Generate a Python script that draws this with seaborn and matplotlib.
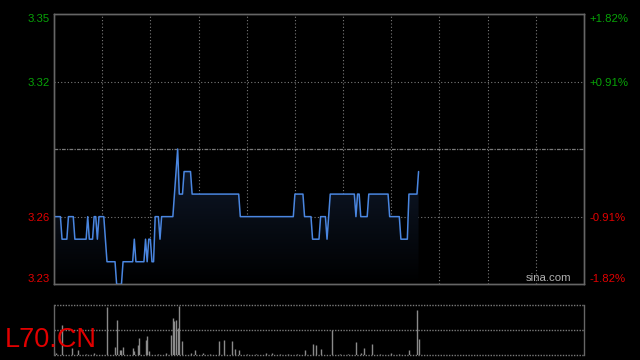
import numpy as np
import pandas as pd
import matplotlib
matplotlib.use("Agg")
import matplotlib.pyplot as plt
from matplotlib.colors import LinearSegmentedColormap
import seaborn as sns

# ---------------- data ----------------
prev_close = 3.29
session_minutes = 330          # 9:30-12:00 + 13:00-16:00
grid_step = 30
# price path as run-lengths: level and number of minutes at that level
run_prices = [3.26, 3.25, 3.26, 3.25, 3.26, 3.25, 3.26, 3.25, 3.26, 3.25,
              3.24, 3.23, 3.24, 3.25, 3.24, 3.25, 3.24, 3.25, 3.24, 3.26,
              3.25, 3.26, 3.27, 3.28, 3.29, 3.27, 3.28, 3.27, 3.26, 3.27,
              3.26, 3.25, 3.26, 3.25, 3.26, 3.27, 3.26, 3.27, 3.26, 3.27,
              3.26, 3.25, 3.27, 3.28]
run_lengths = [5, 4, 4, 8, 1, 3, 2, 1, 4, 1,
               6, 4, 7, 1, 6, 1, 1, 2, 2, 3,
               1, 8, 1, 1, 1, 3, 5, 30, 34, 6,
               5, 5, 4, 1, 1, 16, 1, 2, 5, 13,
               7, 5, 6, 1]
vol_minutes = [0, 1, 5, 11, 15, 20, 25, 33, 38, 39, 41, 42, 43, 49, 50, 52, 53,
               57, 58, 59, 65, 70, 73, 74, 75, 76, 77, 78, 80, 85, 88, 93, 97,
               103, 106, 111, 113, 115, 120, 126, 132, 136, 141, 146, 151, 156,
               161, 163, 166, 173, 178, 183, 188, 191, 193, 198, 203, 210, 215,
               221, 226, 227]
vol_values = [0.08, 0.05, 0.62, 0.14, 0.10, 0.03, 0.04, 0.97, 0.17, 0.72, 0.10,
              0.10, 0.17, 0.14, 0.08, 0.21, 0.35, 0.31, 0.39, 0.08, 0.03, 0.05,
              0.41, 0.75, 0.70, 0.72, 0.55, 1.00, 0.28, 0.04, 0.10, 0.04, 0.03,
              0.28, 0.30, 0.28, 0.12, 0.10, 0.03, 0.03, 0.04, 0.05, 0.03, 0.03,
              0.03, 0.10, 0.22, 0.20, 0.12, 0.50, 0.03, 0.03, 0.26, 0.05, 0.14,
              0.22, 0.03, 0.05, 0.03, 0.10, 0.92, 0.32]
left_labels = ["3.23", "3.26", "3.32", "3.35"]
right_labels = ["-1.82%", "-0.91%", "+0.91%", "+1.82%"]
pct_range = 0.0182
symbol = "L70.CN"
watermark = "sina.com"

price = np.repeat(run_prices, run_lengths)
df = pd.DataFrame({"minute": np.arange(len(price)), "price": price})
vol = pd.DataFrame({"minute": vol_minutes, "volume": vol_values})

ylo = prev_close * (1 - pct_range)
yhi = prev_close * (1 + pct_range)
tick_vals = [ylo, prev_close * (1 - pct_range / 2), prev_close * (1 + pct_range / 2), yhi]

# ---------------- style ----------------
sns.set_theme(style="dark")
plt.rcParams["font.family"] = ["Liberation Sans", "DejaVu Sans"]
BG = "#000000"
GRID = "#7a7a7a"
SPINE = "#666666"
GREEN = "#07a307"
RED = "#e20000"
LINE = "#4a86e0"

fig = plt.figure(figsize=(6.4, 3.6), dpi=100, facecolor=BG)
ax = fig.add_axes([54 / 640, 1 - 284 / 360, 530 / 640, 270 / 360])
axv = fig.add_axes([54 / 640, 1 - 355 / 360, 530 / 640, 50 / 360])
for a in (ax, axv):
    a.set_facecolor(BG)
    a.grid(False)

# ---------------- price panel ----------------
for xg in range(grid_step, session_minutes, grid_step):
    ax.axvline(xg, color=GRID, lw=0.8, ls=(0, (1, 2)), zorder=1)
for yg in (tick_vals[1], tick_vals[2]):
    ax.axhline(yg, color=GRID, lw=0.8, ls=(0, (1, 2)), zorder=1)
ax.axhline(prev_close, color=GRID, lw=0.9, ls=(0, (3, 1, 1, 1)), zorder=1)

poly = ax.fill_between(df["minute"], df["price"], ylo, color="none", lw=0)
grad = np.linspace(1, 0, 256).reshape(-1, 1)
cmap = LinearSegmentedColormap.from_list("g", ["#000000", "#101b2e"])
im = ax.imshow(grad, extent=[0, df["minute"].max(), ylo, prev_close],
               aspect="auto", cmap=cmap, origin="upper", zorder=2,
               interpolation="bilinear")
im.set_clip_path(poly.get_paths()[0], transform=ax.transData)

sns.lineplot(data=df, x="minute", y="price", ax=ax, color=LINE, lw=1.1,
             zorder=3, legend=False)

ax.set_xlim(0, session_minutes)
ax.set_ylim(ylo, yhi)
ax.set_xticks([])
ax.set_xlabel("")
ax.set_ylabel("")
ax.set_yticks(tick_vals)
ax.set_yticklabels(left_labels)
ax.tick_params(axis="y", length=0, pad=3, labelsize=8.2)
for lab, col in zip(ax.get_yticklabels(), [RED, RED, GREEN, GREEN]):
    lab.set_color(col)
ax.get_yticklabels()[0].set_va("bottom")
ax.get_yticklabels()[-1].set_va("top")

axr = ax.twinx()
axr.set_ylim(ylo, yhi)
axr.set_yticks(tick_vals)
axr.set_yticklabels(right_labels)
axr.tick_params(axis="y", length=0, pad=4, labelsize=8.2)
for lab, col in zip(axr.get_yticklabels(), [RED, RED, GREEN, GREEN]):
    lab.set_color(col)
axr.get_yticklabels()[0].set_va("bottom")
axr.get_yticklabels()[-1].set_va("top")
axr.grid(False)
for a in (ax, axr):
    for s in a.spines.values():
        s.set_color(SPINE)
        s.set_linewidth(1)

ax.text(0.977, 0.004, watermark, transform=ax.transAxes, ha="right", va="bottom",
        color="#b0b0b0", fontsize=8.2, zorder=5)

# ---------------- volume panel ----------------
vmax = max(vol_values) * 1.02
axv.vlines(vol["minute"], 0, vol["volume"], color="#8a8a8a", lw=1.0, zorder=2)
axv.set_xlim(0, session_minutes)
axv.set_ylim(0, vmax)
axv.set_xticks([])
axv.set_yticks([])
for yg in (0, vmax / 2, vmax):
    axv.axhline(yg, color=GRID, lw=1.0, ls=(0, (1, 1)), zorder=1, clip_on=False)
axv.spines["top"].set_visible(False)
axv.spines["bottom"].set_visible(False)
for s in ("left", "right"):
    axv.spines[s].set_color(SPINE)
    axv.spines[s].set_linewidth(1)

fig.text(5 / 640, 1 - 347 / 360, symbol, color=RED, fontsize=19.5,
         ha="left", va="baseline", zorder=10)

fig.savefig("out.png", dpi=100, facecolor=BG)
